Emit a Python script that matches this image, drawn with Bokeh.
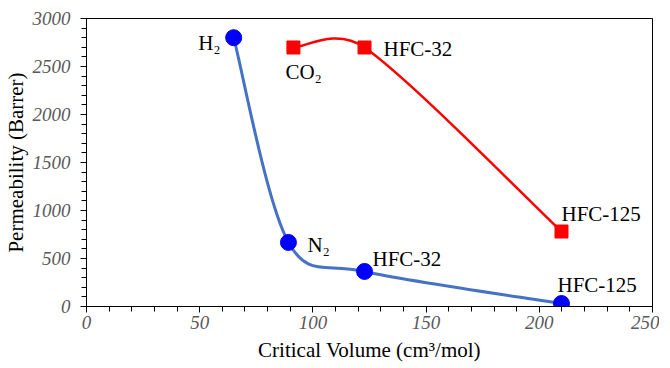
import math
from bokeh.plotting import figure
from bokeh.models import Range1d, FixedTicker, ColumnDataSource
from bokeh.core.properties import value
from bokeh.embed import file_html
from bokeh.resources import INLINE

# ---- data ----
gas_names = ["H\u2082", "N\u2082", "HFC-32", "HFC-125"]
gas_vc = [65.0, 89.2, 122.8, 209.8]
gas_perm = [2800, 667, 365, 31]

ref_names = ["CO\u2082", "HFC-32", "HFC-125"]
ref_vc = [91.4, 122.8, 209.8]
ref_perm = [2698, 2698, 781]

x_ticks = [0, 50, 100, 150, 200, 250]
y_ticks = [0, 500, 1000, 1500, 2000, 2500, 3000]

FONT = "Liberation Serif"
FRAME_W, FRAME_H = 566, 288
X_MAX, Y_MAX = 250, 3000


def smooth_segments(xs, ys):
    """Bezier control points of a smoothed line through the points
    (Catmull-Rom tangents, handle length limited to half the segment)."""
    sx, sy = FRAME_W / X_MAX, FRAME_H / Y_MAX
    px = [x * sx for x in xs]
    py = [y * sy for y in ys]
    n = len(px)

    def handle(i, toward):
        a = max(i - 1, 0)
        b = min(i + 1, n - 1)
        tx, ty = (px[b] - px[a]) / 6.0, (py[b] - py[a]) / 6.0
        seg = math.hypot(px[toward] - px[i], py[toward] - py[i])
        ln = math.hypot(tx, ty)
        if ln > 0.5 * seg:
            tx, ty = tx * 0.5 * seg / ln, ty * 0.5 * seg / ln
        return tx, ty

    out = dict(x0=[], y0=[], x1=[], y1=[], cx0=[], cy0=[], cx1=[], cy1=[])
    for i in range(n - 1):
        h0 = handle(i, i + 1)
        h1 = handle(i + 1, i)
        out["x0"].append(xs[i]); out["y0"].append(ys[i])
        out["x1"].append(xs[i + 1]); out["y1"].append(ys[i + 1])
        out["cx0"].append((px[i] + h0[0]) / sx)
        out["cy0"].append((py[i] + h0[1]) / sy)
        out["cx1"].append((px[i + 1] - h1[0]) / sx)
        out["cy1"].append((py[i + 1] - h1[1]) / sy)
    return out


p = figure(frame_width=FRAME_W, frame_height=FRAME_H,
           x_range=Range1d(0, X_MAX), y_range=Range1d(0, Y_MAX),
           output_backend="svg", toolbar_location=None,
           min_border_left=81, min_border_right=7,
           min_border_top=18, min_border_bottom=46)
p.title.visible = False

p.xgrid.visible = False
p.ygrid.visible = False
p.outline_line_color = "black"
p.outline_line_width = 1
p.background_fill_color = "white"
p.border_fill_color = "white"

# smoothed lines
p.bezier(source=ColumnDataSource(smooth_segments(gas_vc, gas_perm)),
         x0="x0", y0="y0", x1="x1", y1="y1", cx0="cx0", cy0="cy0", cx1="cx1", cy1="cy1",
         line_color="#4472C4", line_width=3)
p.bezier(source=ColumnDataSource(smooth_segments(ref_vc, ref_perm)),
         x0="x0", y0="y0", x1="x1", y1="y1", cx0="cx0", cy0="cy0", cx1="cx1", cy1="cy1",
         line_color="#FF0000", line_width=2.5)

# markers
p.scatter(gas_vc, gas_perm, marker="circle", size=16, fill_color="#0000FF", line_color="#0000FF")
p.scatter(ref_vc, ref_perm, marker="square", size=13, fill_color="#FF0000", line_color="#FF0000")

# point labels
gas_xoff = [-13, 19, 8, -4]
gas_yoff = [5, 3, -12, -19]
gas_align = ["right", "left", "left", "left"]
p.text(source=ColumnDataSource(dict(x=gas_vc, y=gas_perm, t=gas_names, xo=gas_xoff, yo=gas_yoff, a=gas_align)),
       x="x", y="y", text="t", x_offset="xo", y_offset="yo", text_align="a",
       text_baseline="alphabetic", text_font=value(FONT), text_font_size="21px", text_color="black")

ref_xoff = [-8, 19, 0]
ref_yoff = [25, 2, -18]
p.text(source=ColumnDataSource(dict(x=ref_vc, y=ref_perm, t=ref_names, xo=ref_xoff, yo=ref_yoff)),
       x="x", y="y", text="t", x_offset="xo", y_offset="yo", text_align="left",
       text_baseline="alphabetic", text_font=value(FONT), text_font_size="21px", text_color="black")

# axes
p.xaxis.ticker = FixedTicker(ticks=x_ticks, minor_ticks=list(range(0, 251, 10)))
p.yaxis.ticker = FixedTicker(ticks=y_ticks, minor_ticks=list(range(0, 3001, 100)))
p.xaxis.axis_label = "Critical Volume (cm\u00b3/mol)"
p.yaxis.axis_label = "Permeability (Barrer)"
for ax in (p.xaxis, p.yaxis):
    ax.axis_line_color = "black"
    ax.axis_line_width = 1
    ax.major_tick_line_color = "black"
    ax.minor_tick_line_color = "black"
    ax.major_tick_in = 0
    ax.major_tick_out = 6
    ax.minor_tick_in = 0
    ax.minor_tick_out = 5
    ax.major_label_text_font = FONT
    ax.major_label_text_font_size = "19px"
    ax.major_label_text_font_style = "italic"
    ax.major_label_text_color = "#595959"
    ax.axis_label_text_font = FONT
    ax.axis_label_text_font_size = "21px"
    ax.axis_label_text_font_style = "normal"
    ax.axis_label_text_color = "black"
p.xaxis.major_label_standoff = 3
p.yaxis.major_label_standoff = 10
p.xaxis.axis_label_standoff = 6
p.yaxis.axis_label_standoff = 2

open("out.html", "w").write(file_html(p, INLINE))
